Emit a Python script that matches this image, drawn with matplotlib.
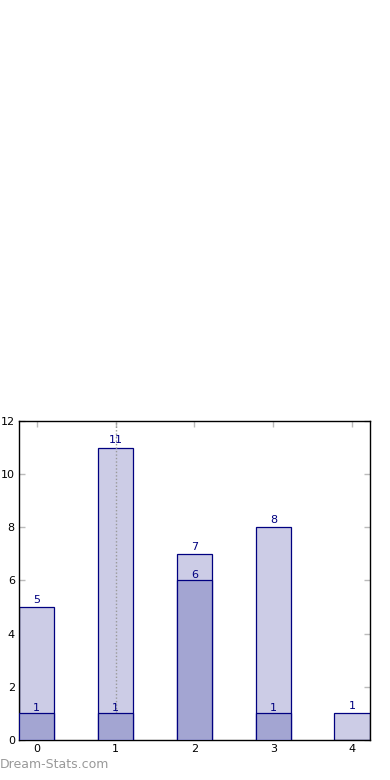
import matplotlib
matplotlib.use("Agg")
import matplotlib.pyplot as plt
import numpy as np

# data
categories = [0, 1, 2, 3, 4]
total_counts = [5, 11, 7, 8, 1]
sub_counts = [1, 1, 6, 1, 0]

light = "#cccce6"
dark = "#a3a5d2"
edge = "#000080"
bar_w = 0.45

fig = plt.figure(figsize=(3.9, 7.8), dpi=100)
ax = fig.add_axes([0.0487, 0.0513, 0.9, 0.409])

x = np.array(categories)
ax.bar(x, total_counts, width=bar_w, color=light, edgecolor=edge, linewidth=0.9, zorder=2)
sub = np.array(sub_counts)
mask = sub > 0
ax.bar(x[mask], sub[mask], width=bar_w, color=dark, edgecolor=edge, linewidth=0.9, zorder=3)

# value labels
for xi, v in zip(x, total_counts):
    ax.annotate(str(v), (xi, v), xytext=(0, 1.5), textcoords="offset points",
                ha="center", va="bottom", color=edge, fontsize=8, zorder=4)
for xi, v in zip(x[mask], sub[mask]):
    ax.annotate(str(v), (xi, v), xytext=(0, 0.5), textcoords="offset points",
                ha="center", va="bottom", color=edge, fontsize=8, zorder=4)

# dotted marker line at 1
ax.axvline(1, color="#999999", linestyle=(0, (1, 1.5)), linewidth=1, zorder=2.5)

ax.set_xlim(-0.225, 4.225)
ax.set_ylim(0, 12)
ax.set_xticks(categories)
ax.set_yticks([0, 2, 4, 6, 8, 10, 12])
ax.tick_params(direction="in", length=4, width=1, color="#bbbbbb",
               top=True, right=True, labelsize=8, pad=3)
for s in ax.spines.values():
    s.set_linewidth(1)
    s.set_color("black")

fig.text(0.0, 0.0115, "Dream-Stats.com", color="#999999", fontsize=9,
         ha="left", va="bottom")

fig.savefig("out.png", dpi=100)
